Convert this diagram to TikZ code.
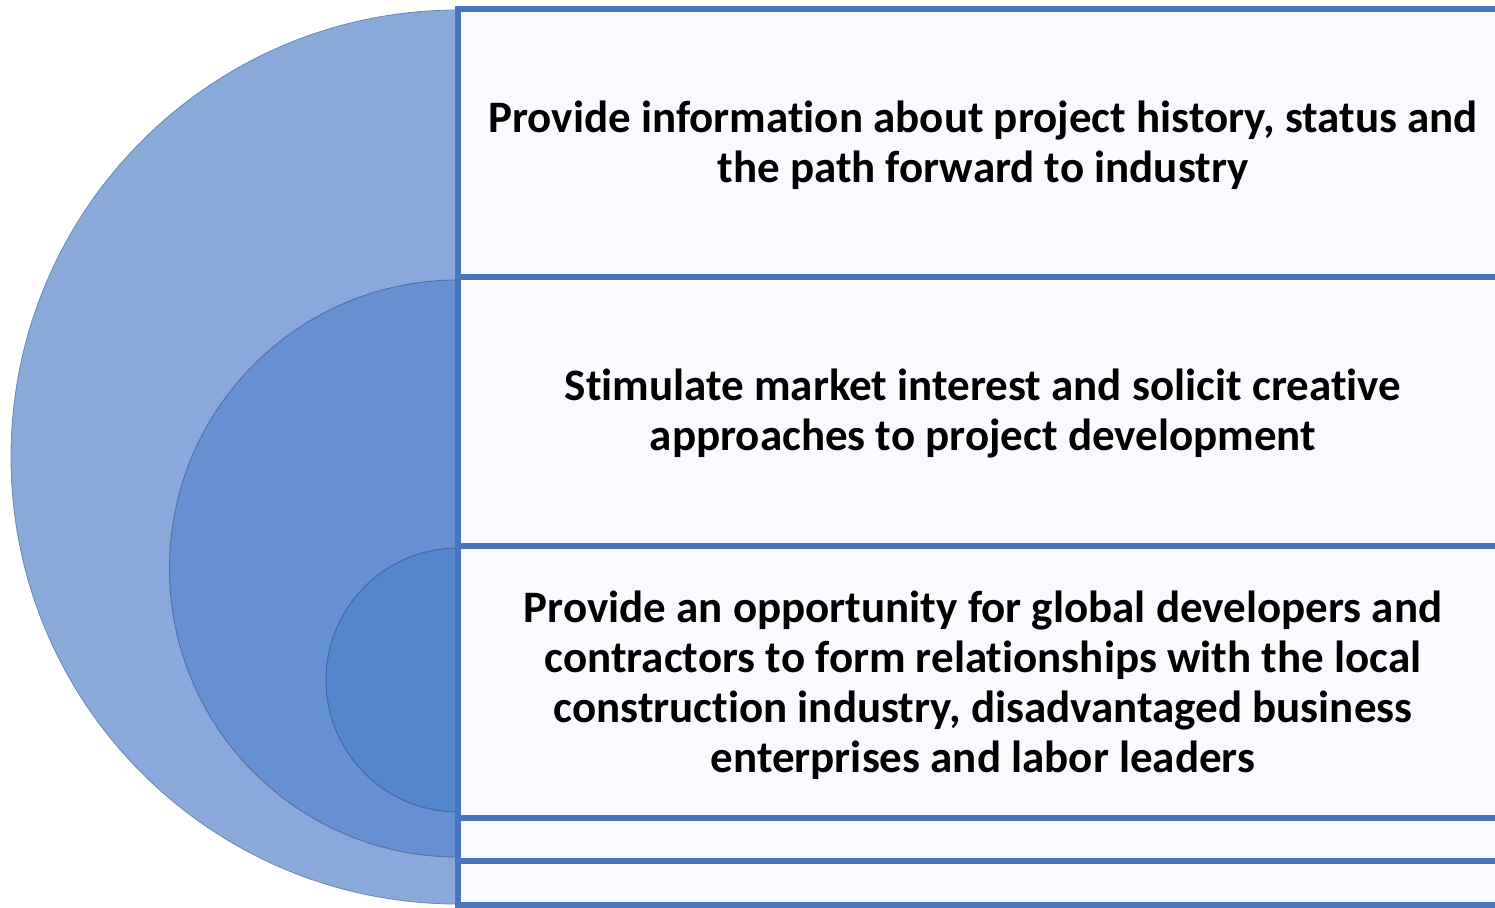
\documentclass[tikz,border=0pt]{standalone}
\usepackage{fontspec}
\setmainfont{Carlito}[RawFeature=-liga]
\begin{document}
\begin{tikzpicture}[x=1pt,y=-1pt,
  rule/.style={draw=boxline, line width=6.5pt},
  boxtext/.style={align=center, font=\bfseries\fontsize{45}{50}\selectfont, text=black}]
\definecolor{outerc}{HTML}{88A9D9}
\definecolor{midc}{HTML}{6692D3}
\definecolor{innerc}{HTML}{5386CA}
\definecolor{boxline}{HTML}{4676BD}
\definecolor{boxfill}{HTML}{FAFAFE}
\useasboundingbox (0,0) rectangle (1495,907);
% half disks
\fill[outerc] (458,10) arc[start angle=-90, end angle=-270, radius=447] -- cycle;
\draw[outerc!80!black, line width=0.8pt] (458,10) arc[start angle=-90, end angle=-270, radius=447];
\fill[midc] (458,280) arc[start angle=-90, end angle=-270, radius=288.5] -- cycle;
\draw[midc!80!black, line width=1pt] (458,280) arc[start angle=-90, end angle=-270, radius=288.5];
\fill[innerc] (458,548) arc[start angle=-90, end angle=-270, radius=132] -- cycle;
\draw[innerc!80!black, line width=1pt] (458,548) arc[start angle=-90, end angle=-270, radius=132];
% boxes
\fill[boxfill] (458,9) rectangle (1495,905);
\foreach \yy in {9,277,546,818,861,905} {\draw[rule] (455,\yy) -- (1495,\yy);}
\draw[rule] (458,6) -- (458,907);
% texts
\node[boxtext] (t1) at (983,145) {Provide information about project history, status and\\the path forward to industry};
\node[boxtext] (t2) at (983,414) {Stimulate market interest and solicit creative\\approaches to project development};
\node[boxtext] (t3) at (983,685) {Provide an opportunity for global developers and\\contractors to form relationships with the local\\construction industry, disadvantaged business\\enterprises and labor leaders};
\end{tikzpicture}
\end{document}
